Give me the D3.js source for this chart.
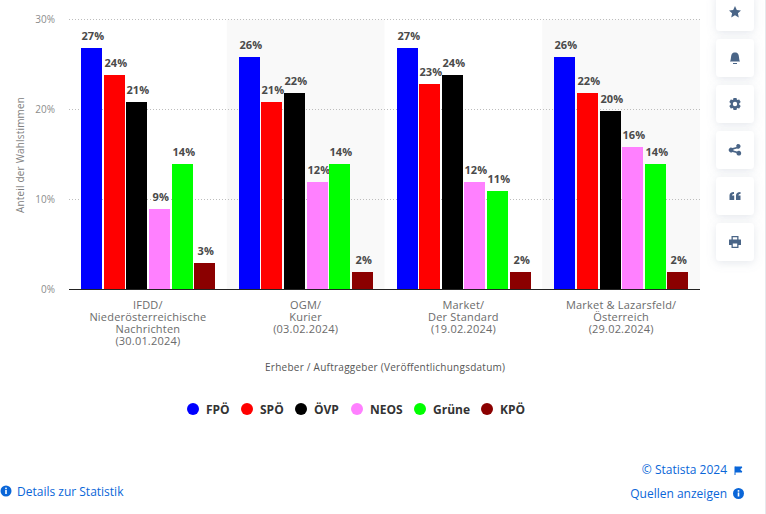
<!DOCTYPE html>
<meta charset="utf-8">
<style>
html, body { margin: 0; padding: 0; background: #fff; overflow: hidden; }
svg { display: block; font-family: "Open Sans", sans-serif; }
.grid line { stroke: #bdbdbd; stroke-dasharray: 1 2; }
</style>
<body>
<svg id="chart" width="766" height="514"></svg>
<script src="https://d3js.org/d3.v7.min.js"></script>
<script>
const polls = [
  ["IFDD/", "Niederösterreichische", "Nachrichten", "(30.01.2024)"],
  ["OGM/", "Kurier", "(03.02.2024)"],
  ["Market/", "Der Standard", "(19.02.2024)"],
  ["Market & Lazarsfeld/", "Österreich", "(29.02.2024)"]
];
const parties = ["FPÖ", "SPÖ", "ÖVP", "NEOS", "Grüne", "KPÖ"];
const partyColors = ["#0000ff", "#ff0000", "#000000", "#ff80ff", "#00ff00", "#8b0000"];
const fpo = [27, 26, 27, 26];
const spo = [24, 21, 23, 22];
const ovp = [21, 22, 24, 20];
const neos = [9, 12, 12, 16];
const gruene = [14, 14, 11, 14];
const kpo = [3, 2, 2, 2];
const yTicks = [0, 10, 20, 30];

const series = [fpo, spo, ovp, neos, gruene, kpo];
const svg = d3.select("#chart");
const textCol = "#6b6b6b";

const x0 = d3.scaleBand().domain(d3.range(polls.length)).range([69, 700]);
const x1 = d3.scaleBand().domain(d3.range(parties.length)).range([12, 146.25]).paddingInner(0.0728);
const y = d3.scaleLinear().domain([0, 30]).range([289.5, 21.5]);
// gridlines and tick labels sit a little higher than the bars in the original
const yGrid = d3.scaleLinear().domain([0, 30]).range([289.5, 19.5]);

// page edge + stripes
svg.append("rect").attr("x", 765).attr("width", 1).attr("height", 514).attr("fill", "#e6e8ec");
svg.selectAll(".stripe").data([1, 3]).enter().append("rect")
  .attr("x", d => x0(d)).attr("y", yGrid(30)).attr("width", x0.bandwidth()).attr("height", yGrid(0) - yGrid(30))
  .attr("fill", "#f9f9f9");

// grid
const grid = svg.append("g").attr("class", "grid");
grid.selectAll("line").data(yTicks.slice(1)).enter().append("line")
  .attr("x1", 69).attr("x2", 700).attr("y1", d => yGrid(d)).attr("y2", d => yGrid(d));

// y axis
svg.selectAll(".ytick").data(yTicks).enter().append("text")
  .attr("x", 55).attr("y", d => yGrid(d) + 3.5).attr("text-anchor", "end")
  .attr("font-size", 10).attr("fill", "#8c8c8c").text(d => d + "%");
svg.append("text").attr("transform", "translate(24,155) rotate(-90)")
  .attr("text-anchor", "middle").attr("font-size", 10).attr("textLength", 116).attr("fill", "#808080")
  .text("Anteil der Wahlstimmen");

// bars
const groups = svg.selectAll(".group").data(polls).enter().append("g")
  .attr("transform", (d, i) => "translate(" + x0(i) + ",0)");
groups.each(function(p, i) {
  const g = d3.select(this);
  parties.forEach(function(name, k) {
    const v = series[k][i];
    const bx = Math.round(x0(i) + x1(k)) - x0(i);
    const by = Math.round(y(v));
    g.append("rect").attr("x", bx).attr("y", by).attr("width", 21).attr("height", 289 - by)
      .attr("fill", partyColors[k]);
    g.append("text").attr("x", bx + 11.8).attr("y", by - 8)
      .attr("text-anchor", "middle").attr("font-size", 11).attr("font-weight", 700)
      .attr("letter-spacing", 0.1).attr("fill", "#4a4a4a")
      .text(v + "%");
  });
  p.forEach(function(line, n) {
    g.append("text").attr("x", x0.bandwidth() / 2).attr("y", 309 + n * 12)
      .attr("text-anchor", "middle").attr("font-size", 11).attr("letter-spacing", 0.2).attr("fill", textCol).text(line);
  });
});

// baseline
svg.append("line").attr("x1", 69).attr("x2", 700).attr("y1", 289.5).attr("y2", 289.5).attr("stroke", "#222");

svg.append("text").attr("x", 385).attr("y", 371).attr("text-anchor", "middle")
  .attr("font-size", 10).attr("textLength", 240).attr("fill", "#555")
  .text("Erheber / Auftraggeber (Veröffentlichungsdatum)");

// legend
const legendX = [193, 247, 301, 357, 420, 487];
const legend = svg.selectAll(".leg").data(parties).enter().append("g")
  .attr("transform", (d, i) => "translate(" + legendX[i] + ",409)");
legend.append("circle").attr("r", 6).attr("fill", (d, i) => partyColors[i]);
legend.append("text").attr("x", 13).attr("y", 4.5).attr("font-size", 12).attr("font-weight", 700)
  .attr("fill", "#333").text(d => d);

// side buttons
const btnY = [-7, 39, 85, 131, 177, 223];
const icons = [
  "M0-6 1.8-2 6-1.6 2.9 1.2 3.8 5.5 0 3.3-3.8 5.5-2.9 1.2-6-1.6-1.8-2Z",
  "M-5 3.5C-4 2-4.2-1-3.6-3-3-5-1.5-5.5 0-5.5 1.5-5.5 3-5 3.6-3 4.2-1 4 2 5 3.5ZM-2 5H2V6H-2Z",
  "M-1.5-6H1.5L2-4 4.2-4.6 5.7-2 4.2-.6V.6L5.7 2 4.2 4.6 2 4 1.5 6H-1.5L-2 4-4.2 4.6-5.7 2-4.2.6V-.6L-5.7-2-4.2-4.6-2-4ZM0-2.2A2.2 2.2 0 1 0 0 2.2 2.2 2.2 0 1 0 0-2.2Z",
  "M2.5-6A2.4 2.4 0 1 1 2 -1.6L-1.6-.4V.4L2 1.6A2.4 2.4 0 1 1 1.4 3L-2.5 1.9A2.4 2.4 0 1 1-2.5-1.9L1.4-3A2.4 2.4 0 0 1 2.5-6Z",
  "M-5.5 4V-.5C-5.5-2.5-4-4-1-4V-2C-2.4-2-3-1.5-3-.5H-.8V4ZM1 4V-.5C1-2.5 2.5-4 5.5-4V-2C4.1-2 3.5-1.5 3.5-.5H5.5V4Z",
  "M-3.5-6H3.5V-2.5H6V3H3.5V6H-3.5V3H-6V-2.5H-3.5ZM-2.2-4.8V-2.5H2.2V-4.8ZM-2.2 1.5V4.8H2.2V1.5Z"
];
const defs = svg.append("defs");
const f = defs.append("filter").attr("id", "sh").attr("x", "-30%").attr("y", "-30%").attr("width", "160%").attr("height", "160%");
f.append("feDropShadow").attr("dx", 0).attr("dy", 2).attr("stdDeviation", 5).attr("flood-color", "#8a97ab").attr("flood-opacity", 0.22);
btnY.forEach(function(b, i) {
  svg.append("rect").attr("x", 716).attr("y", b).attr("width", 38).attr("height", 38).attr("rx", 4)
    .attr("fill", "#fff").attr("filter", "url(#sh)");
  svg.append("path").attr("transform", "translate(735," + (b + 19) + ")").attr("d", icons[i])
    .attr("fill", "#4a6587").attr("fill-rule", "evenodd");
});

// footer links
const linkCol = "#0a66d8";
function info(cx, cy) {
  svg.append("circle").attr("cx", cx).attr("cy", cy).attr("r", 5.5).attr("fill", linkCol);
  svg.append("rect").attr("x", cx - 0.8).attr("y", cy - 1).attr("width", 1.6).attr("height", 4).attr("fill", "#fff");
  svg.append("rect").attr("x", cx - 0.8).attr("y", cy - 3.4).attr("width", 1.6).attr("height", 1.6).attr("fill", "#fff");
}
svg.append("text").attr("x", 17).attr("y", 496).attr("font-size", 12).attr("fill", linkCol).text("Details zur Statistik");
info(6, 491);
svg.append("text").attr("x", 727).attr("y", 474).attr("text-anchor", "end").attr("font-size", 12).attr("fill", linkCol).text("© Statista 2024");
svg.append("path").attr("d", "M735 466.5V475M735 467H742L740 469.5 742 472H735").attr("fill", linkCol).attr("stroke", linkCol);
svg.append("text").attr("x", 727).attr("y", 498).attr("text-anchor", "end").attr("font-size", 12).attr("fill", linkCol).text("Quellen anzeigen");
info(738.5, 493.5);
</script>
</body>
